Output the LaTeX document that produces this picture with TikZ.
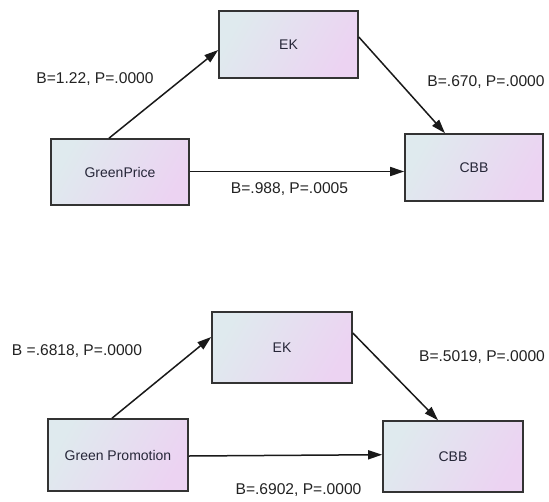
\documentclass[tikz,border=0pt]{standalone}
\usepackage{fontspec}
\setmainfont{Liberation Sans}
\usetikzlibrary{arrows.meta,calc}
\definecolor{boxA}{HTML}{DFEAEE}
\definecolor{boxB}{HTML}{ECD3F2}
\definecolor{edgecol}{HTML}{333333}
\definecolor{boxtext}{HTML}{262638}
\definecolor{labtext}{HTML}{222222}
\tikzset{
  varbox/.style={draw=edgecol, line width=1.6pt, rectangle, inner sep=0pt,
    top color=boxA, bottom color=boxB, shading angle=60,
    text=boxtext, font=\fontsize{14}{16}\selectfont},
  pathlab/.style={inner sep=0pt, text=labtext, font=\fontsize{15.6}{18}\selectfont},
  conn/.style={draw=black!90, line width=1.5pt, -{Triangle[length=14pt,width=9pt]}}
}
\begin{document}
\begin{tikzpicture}[x=1pt,y=-1pt]
\useasboundingbox (0,0) rectangle (549,501);
% top diagram
\node[varbox, minimum width=139pt, minimum height=67pt] (ek1) at (288.5,44.5) {EK};
\node[varbox, minimum width=138pt, minimum height=66pt] (gp1) at (120,172) {GreenPrice};
\node[varbox, minimum width=138pt, minimum height=67pt] (cbb1) at (474,167.5) {CBB};
\draw[conn] ($(gp1.north)+(-11,0)$) -- ($(ek1.west)+(0,5.5)$);
\draw[conn] ($(ek1.east)+(0,-7.5)$) -- ($(cbb1.north)+(-29,0)$);
\draw[conn] ($(gp1.east)+(0,-0.5)$) -- ($(cbb1.west)+(0,4)$);
\node[pathlab] (l1) at (95,79) {B=1.22, P=.0000};
\node[pathlab] (l2) at (486,82) {B=.670, P=.0000};
\node[pathlab] (l3) at (289.5,189) {B=.988, P=.0005};
% bottom diagram
\node[varbox, minimum width=140pt, minimum height=71pt] (ek2) at (282,347.5) {EK};
\node[varbox, minimum width=140pt, minimum height=72pt] (gp2) at (118,455) {Green Promotion};
\node[varbox, minimum width=140pt, minimum height=71pt] (cbb2) at (453,456.5) {CBB};
\draw[conn] ($(gp2.north)+(-6,0)$) -- ($(ek2.west)+(0,-10.5)$);
\draw[conn] ($(ek2.east)+(0,-14.5)$) -- ($(cbb2.north)+(-15,0)$);
\draw[conn] ($(gp2.east)+(0,1)$) -- ($(cbb2.west)+(0,-1.8)$);
\node[pathlab] (l4) at (77,351) {B =.6818, P=.0000};
\node[pathlab] (l5) at (482,357) {B=.5019, P=.0000};
\node[pathlab] (l6) at (298.5,490) {B=.6902, P=.0000};
\end{tikzpicture}
\end{document}
